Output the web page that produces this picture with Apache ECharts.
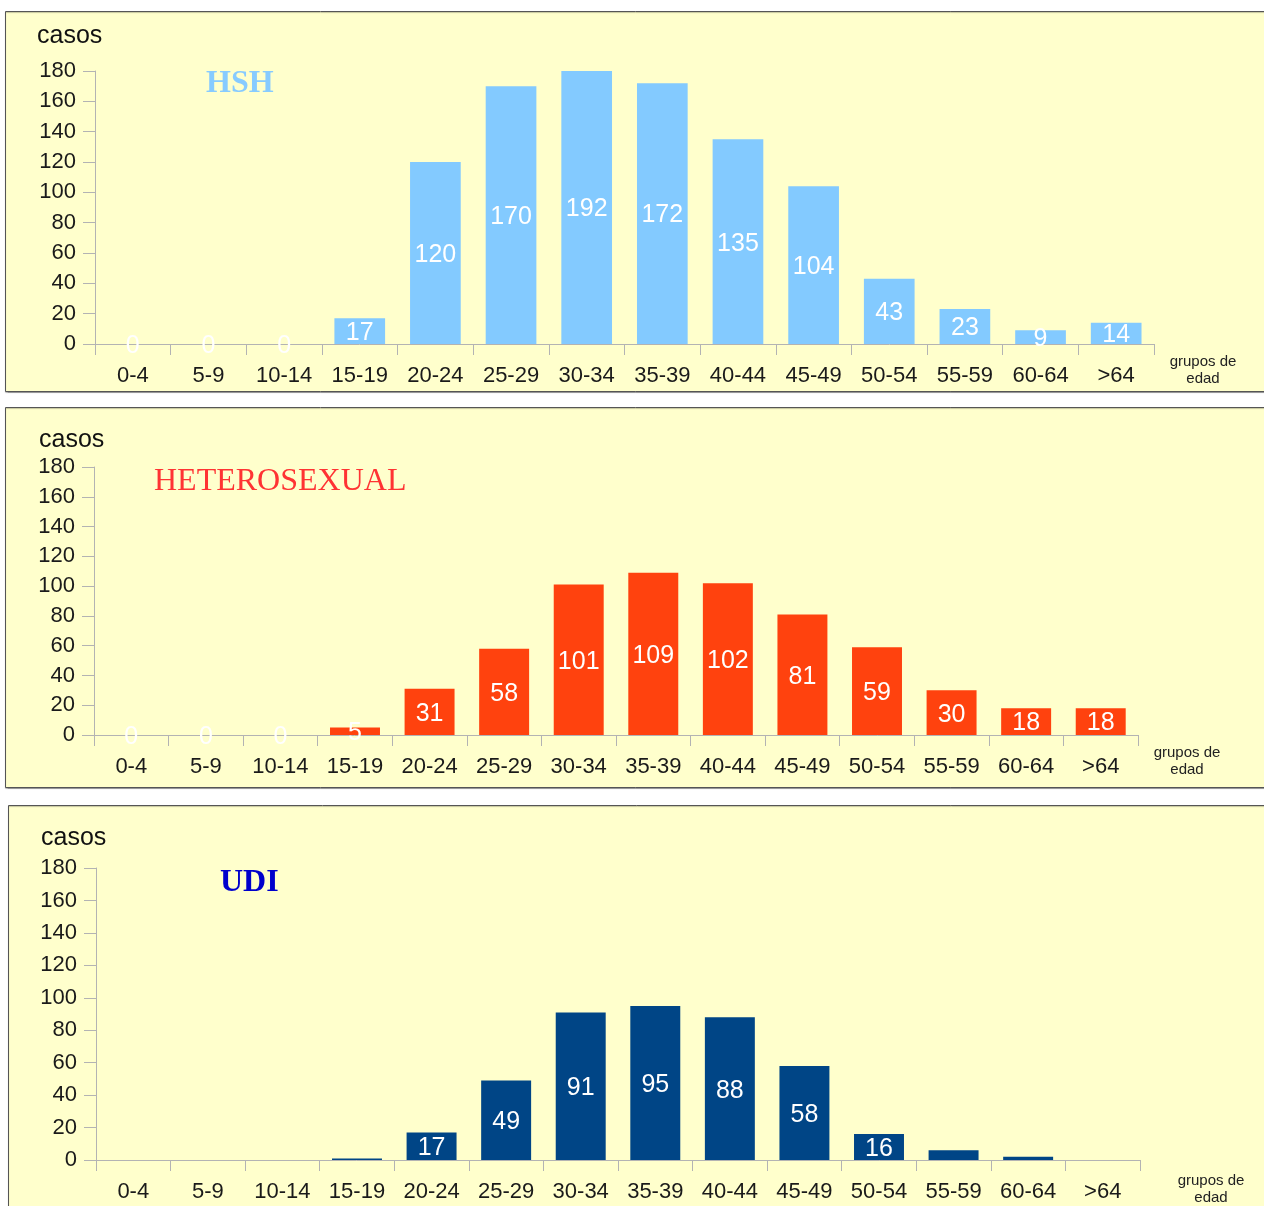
<!DOCTYPE html>
<html>
<head>
<meta charset="utf-8">
<script src="https://cdn.jsdelivr.net/npm/echarts@6/dist/echarts.min.js"></script>
<style>
  html, body { margin: 0; padding: 0; background: #ffffff; }
  #chart { width: 1264px; height: 1206px; }
</style>
</head>
<body>
<div id="chart"></div>
<script>
// Age groups shared by the three panels
const ageGroups = ['0-4', '5-9', '10-14', '15-19', '20-24', '25-29', '30-34',
  '35-39', '40-44', '45-49', '50-54', '55-59', '60-64', '>64'];

// Cases by transmission category
const hshCases = [0, 0, 0, 17, 120, 170, 192, 172, 135, 104, 43, 23, 9, 14];
const heteroCases = [0, 0, 0, 5, 31, 58, 101, 109, 102, 81, 59, 30, 18, 18];
const udiCases = [0, 0, 0, 1, 17, 49, 91, 95, 88, 58, 16, 6, 2, 0];
// Which UDI bars carry a value label
const udiLabelShown = [false, false, false, false, true, true, true, true, true, true, true, false, false, false];

// Y axis scale
const yMin = 0, yMax = 180, yStep = 20;

const FONT = '"Liberation Sans", Arial, sans-serif';
const SERIF = '"Liberation Serif", "Times New Roman", serif';
const AXIS_GREY = '#b3b3b3';

// Panel frames (background boxes)
const panels = [
  { x: 5.5, y: 11.5, w: 1280, h: 380 },
  { x: 5.5, y: 407.5, w: 1280, h: 380 },
  { x: 8.5, y: 805.5, w: 1280, h: 420 }
];

// Plot areas
const grids = [
  { left: 95, top: 71, width: 1059, height: 273 },
  { left: 94, top: 467, width: 1044, height: 268 },
  { left: 96, top: 868, width: 1044, height: 292 }
];

function xAxis(i) {
  return {
    type: 'category', gridIndex: i, data: ageGroups,
    axisLine: { lineStyle: { color: AXIS_GREY, width: 1 } },
    axisTick: { show: true, length: 11, lineStyle: { color: AXIS_GREY } },
    axisLabel: { interval: 0, margin: 21, color: '#1a1a1a', fontSize: 22, fontFamily: FONT },
    splitLine: { show: false }
  };
}
function yAxis(i) {
  return {
    type: 'value', gridIndex: i, min: yMin, max: yMax, interval: yStep,
    axisLine: { show: true, lineStyle: { color: AXIS_GREY, width: 1 } },
    axisTick: { show: true, length: 12, lineStyle: { color: AXIS_GREY } },
    axisLabel: { margin: 19, color: '#1a1a1a', fontSize: 22, fontFamily: FONT,
      padding: [3, 0, 0, 0] },
    splitLine: { show: false }
  };
}
function barSeries(i, values, color, shown) {
  return {
    type: 'bar', xAxisIndex: i, yAxisIndex: i,
    barWidth: '67%',
    clip: true,
    itemStyle: { color: color },
    data: values.map((v, k) => ({
      value: v,
      label: { show: shown ? shown[k] : true }
    })),
    label: {
      show: true, position: 'inside', color: '#ffffff',
      fontSize: 25, fontFamily: FONT, offset: [0, 2]
    },
    emphasis: { disabled: true },
    animation: false
  };
}

const chart = echarts.init(document.getElementById('chart'), null, { renderer: 'canvas' });

const casosLabels = [
  { left: 37, top: 24 }, { left: 39, top: 428 }, { left: 41, top: 826 }
];
const ejeLabels = [
  { cx: 1203, top: 353 }, { cx: 1187, top: 744 }, { cx: 1211, top: 1172 }
];

const graphics = [];
panels.forEach(p => {
  graphics.push({
    type: 'rect', z: -10, silent: true,
    shape: { x: p.x, y: p.y, width: p.w, height: p.h },
    style: { fill: '#ffffcc', stroke: '#555555', lineWidth: 1,
      shadowColor: 'rgba(0,0,0,0.25)', shadowOffsetY: 1, shadowBlur: 1 }
  });
});
casosLabels.forEach(c => {
  graphics.push({
    type: 'text', left: c.left, top: c.top, silent: true,
    style: { text: 'casos', fill: '#111111', font: '25px ' + FONT }
  });
});
ejeLabels.forEach(e => {
  graphics.push({
    type: 'text', x: e.cx, y: e.top, silent: true,
    style: { text: 'grupos de\nedad', fill: '#222222', font: '15px ' + FONT,
      align: 'center', lineHeight: 17 }
  });
});

chart.setOption({
  backgroundColor: '#ffffff',
  animation: false,
  title: [
    { text: 'HSH', left: 206, top: 68,
      textStyle: { color: '#87cbff', fontFamily: SERIF, fontWeight: 'bold', fontSize: 32 } },
    { text: 'HETEROSEXUAL', left: 154, top: 466,
      textStyle: { color: '#ff3333', fontFamily: SERIF, fontWeight: 'normal', fontSize: 32 } },
    { text: 'UDI', left: 220, top: 867,
      textStyle: { color: '#0000cc', fontFamily: SERIF, fontWeight: 'bold', fontSize: 32 } }
  ].map(t => Object.assign({ padding: 0 }, t)),
  graphic: graphics,
  grid: grids.map(g => Object.assign({ containLabel: false }, g)),
  xAxis: [xAxis(0), xAxis(1), xAxis(2)],
  yAxis: [yAxis(0), yAxis(1), yAxis(2)],
  series: [
    barSeries(0, hshCases, '#83caff'),
    barSeries(1, heteroCases, '#ff420e'),
    barSeries(2, udiCases, '#004586', udiLabelShown)
  ]
});
</script>
</body>
</html>
